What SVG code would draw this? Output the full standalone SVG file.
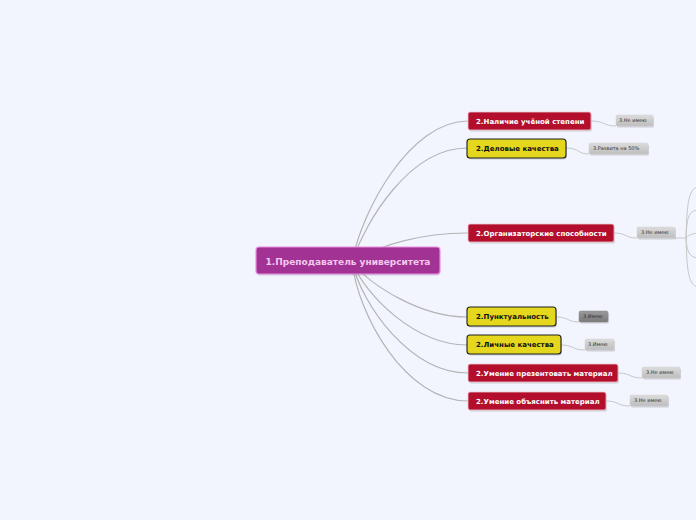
<svg xmlns="http://www.w3.org/2000/svg" width="696" height="520" viewBox="0 0 696 520">
<defs>
<linearGradient id="gg" x1="0" y1="0" x2="0" y2="1"><stop offset="0" stop-color="#dcdcdc"/><stop offset="1" stop-color="#bdbdbd"/></linearGradient>
<linearGradient id="gd" x1="0" y1="0" x2="0" y2="1"><stop offset="0" stop-color="#9a9a9a"/><stop offset="1" stop-color="#7a7a7a"/></linearGradient>
</defs>
<style>
.c{fill:none;stroke:#b4b4b4;stroke-width:1.2}
.c2{fill:none;stroke:#c8c8c8;stroke-width:1}
.sh{fill:#000;opacity:0.15}
.red{fill:#b30f2c;stroke:#f0c8ce;stroke-width:0.8}
.yel{fill:#e5d61e;stroke:#1e1e1e;stroke-width:1.1}
.gry{fill:url(#gg);stroke:#d0d0d0;stroke-width:0.5}
.dgr{fill:url(#gd);stroke:#888;stroke-width:0.5}
.t{font-family:"DejaVu Sans",Verdana,sans-serif;font-weight:bold;font-size:7px}
.tw{fill:#ffffff}
.tb{fill:#111111}
.ts{font-family:"DejaVu Sans",Verdana,sans-serif;font-size:5px;fill:#333}
</style>
<rect width="696" height="520" fill="#f3f5fe"/>
<g id="connectors">
<path class="c" d="M352,262 C362,210 410,121 468,121"/>
<path class="c" d="M352,262 C366,220 410,148 467,148"/>
<path class="c" d="M352,262 C380,245 420,233 468,233"/>
<path class="c" d="M352,262 C370,285 420,317 467,317"/>
<path class="c" d="M352,262 C365,295 415,345 467,345"/>
<path class="c" d="M352,262 C362,305 410,373 468,373"/>
<path class="c" d="M352,262 C358,315 405,401 468,401"/>
<path class="c2" d="M591,121 C605,121 603,126 616,126"/>
<path class="c2" d="M566,148 C580,148 577,154 589,154"/>
<path class="c2" d="M614,233 C627,233 625,238 637,238"/>
<path class="c2" d="M556,317 C569,317 567,322 579,322"/>
<path class="c2" d="M561,345 C574,345 572,350 585,350"/>
<path class="c2" d="M618,373 C631,373 629,378 642,378"/>
<path class="c2" d="M606,401 C619,401 617,406 630,406"/>
<path class="c2" d="M675,238 L686,238"/>
<path class="c2" d="M686,238 C687,205 688,189 698,187"/>
<path class="c2" d="M686,238 C687,218 688,211 698,210"/>
<path class="c2" d="M686,238 C688,236 690,234 698,233"/>
<path class="c2" d="M686,238 C687,250 688,257 698,258"/>
<path class="c2" d="M686,238 C687,270 688,285 698,287"/>
</g>
<g id="root">
<rect x="257" y="248.5" width="183" height="27" rx="3" class="sh"/>
<rect x="256" y="247" width="184" height="27" rx="3" fill="#a23293" stroke="#ea90e2" stroke-width="1.2"/>
<text x="348" y="264.5" text-anchor="middle" font-family="DejaVu Sans,Verdana,sans-serif" font-weight="bold" font-size="9" fill="#f4c8ef">1.Преподаватель университета</text>
</g>
<g id="n1">
<rect x="469" y="113.5" width="123" height="18" rx="2" class="sh"/>
<rect x="468" y="112" width="123" height="18" rx="2" class="red"/>
<text x="476" y="123.5" class="t tw">2.Наличие учёной степени</text>
</g>
<g id="n1a">
<rect x="617" y="116.5" width="37" height="11" rx="1.5" class="sh"/>
<rect x="616" y="115" width="37" height="11" rx="1.5" class="gry"/>
<text x="619" y="122.3" class="ts">3.Не имею</text>
</g>
<g id="n2">
<rect x="468" y="140.5" width="99" height="19" rx="3" class="sh"/>
<rect x="467" y="139" width="99" height="19" rx="3" class="yel"/>
<text x="476" y="151" class="t tb">2.Деловые качества</text>
</g>
<g id="n2a">
<rect x="590" y="144.5" width="59" height="11" rx="1.5" class="sh"/>
<rect x="589" y="143" width="59" height="11" rx="1.5" class="gry"/>
<text x="593" y="150.3" class="ts">3.Развита на 50%</text>
</g>
<g id="n3">
<rect x="469" y="225.5" width="146" height="18" rx="2" class="sh"/>
<rect x="468" y="224" width="146" height="18" rx="2" class="red"/>
<text x="476" y="235.5" class="t tw">2.Организаторские способности</text>
</g>
<g id="n3a">
<rect x="638" y="228.5" width="38" height="11" rx="1.5" class="sh"/>
<rect x="637" y="227" width="38" height="11" rx="1.5" class="gry"/>
<text x="641" y="234.3" class="ts">3.Не имею</text>
</g>
<g id="n4">
<rect x="468" y="308.5" width="89" height="19" rx="3" class="sh"/>
<rect x="467" y="307" width="89" height="19" rx="3" class="yel"/>
<text x="476" y="319" class="t tb">2.Пунктуальность</text>
</g>
<g id="n4a">
<rect x="580" y="312.5" width="29" height="11" rx="1.5" class="sh"/>
<rect x="579" y="311" width="29" height="11" rx="1.5" class="dgr"/>
<text x="583" y="318.3" class="ts">3.Имею</text>
</g>
<g id="n5">
<rect x="468" y="336.5" width="94" height="19" rx="3" class="sh"/>
<rect x="467" y="335" width="94" height="19" rx="3" class="yel"/>
<text x="476" y="347" class="t tb">2.Личные качества</text>
</g>
<g id="n5a">
<rect x="586" y="340.5" width="29" height="11" rx="1.5" class="sh"/>
<rect x="585" y="339" width="29" height="11" rx="1.5" class="gry"/>
<text x="588" y="346.3" class="ts">3.Имею</text>
</g>
<g id="n6">
<rect x="469" y="365.5" width="150" height="18" rx="2" class="sh"/>
<rect x="468" y="364" width="150" height="18" rx="2" class="red"/>
<text x="476" y="375.5" class="t tw">2.Умение презентовать материал</text>
</g>
<g id="n6a">
<rect x="643" y="368.5" width="38" height="11" rx="1.5" class="sh"/>
<rect x="642" y="367" width="38" height="11" rx="1.5" class="gry"/>
<text x="646" y="374.3" class="ts">3.Не имею</text>
</g>
<g id="n7">
<rect x="469" y="393.5" width="138" height="18" rx="2" class="sh"/>
<rect x="468" y="392" width="138" height="18" rx="2" class="red"/>
<text x="476" y="403.5" class="t tw">2.Умение объяснить материал</text>
</g>
<g id="n7a">
<rect x="631" y="396.5" width="38" height="11" rx="1.5" class="sh"/>
<rect x="630" y="395" width="38" height="11" rx="1.5" class="gry"/>
<text x="634" y="402.3" class="ts">3.Не имею</text>
</g>
</svg>
